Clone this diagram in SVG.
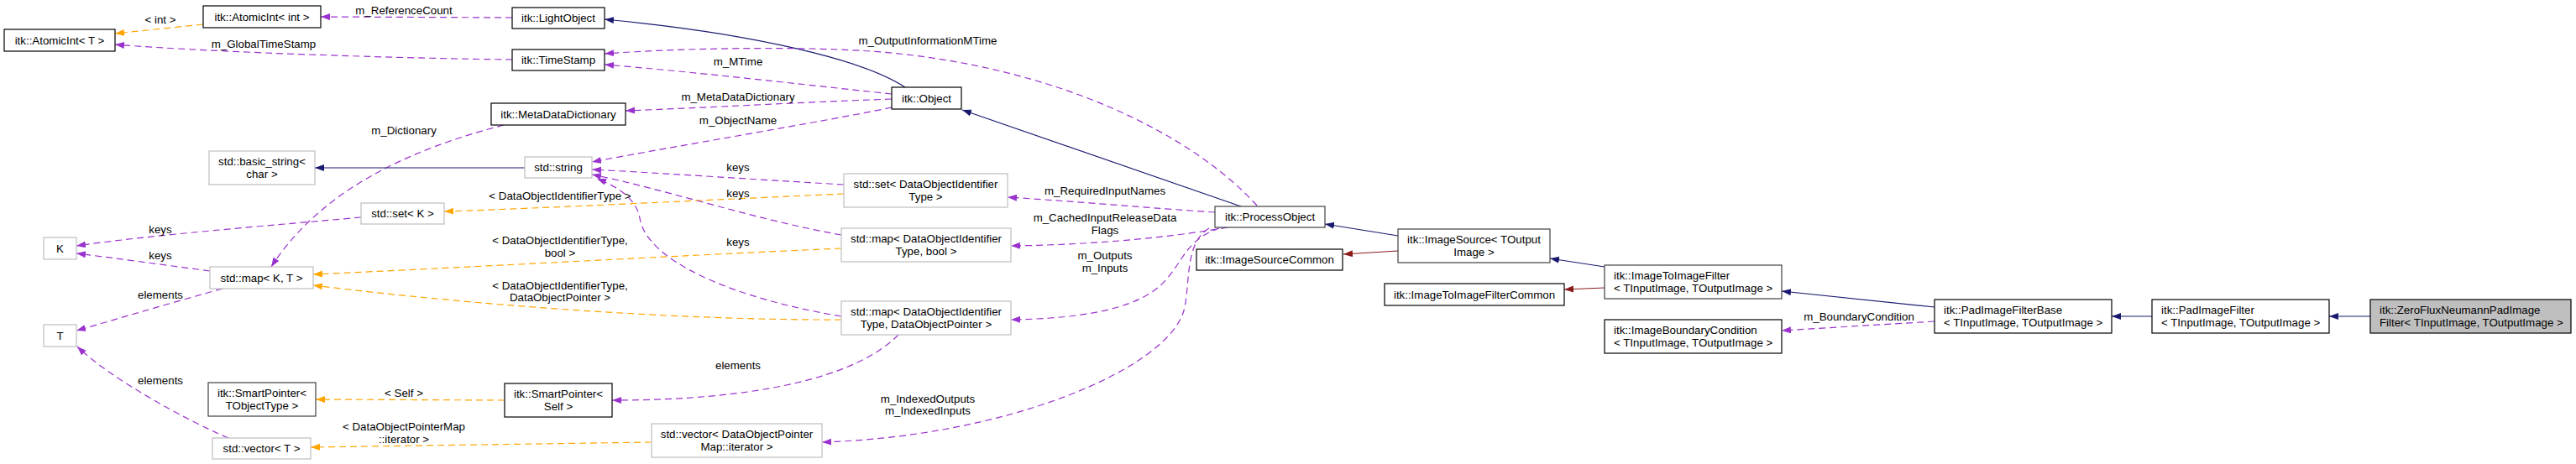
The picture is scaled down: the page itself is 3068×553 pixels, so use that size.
<svg xmlns="http://www.w3.org/2000/svg" width="3068" height="553" viewBox="0 0 3068 553">
<style>
text{font-family:"Liberation Sans",Arial,sans-serif;font-size:13.3px;fill:#000}
.c{text-anchor:middle}
.n rect{fill:#fff;stroke:#000;stroke-width:1.2}
.g rect{fill:#fff;stroke:#bfbfbf;stroke-width:1.2}
.root rect{fill:#bfbfbf;stroke:#000;stroke-width:1.2}
.e path{fill:none;stroke-width:1.2}
.nav{stroke:#191970}
.red{stroke:#8b1a1a}
.pur{stroke:#9a32cd;stroke-dasharray:8,5}
.ora{stroke:#ffa500;stroke-dasharray:8,5}
</style>
<defs>
<marker id="aN" markerUnits="userSpaceOnUse" markerWidth="12" markerHeight="10" refX="11" refY="4" orient="auto"><path d="M0,0 L11,4 L0,8 z" fill="#191970"/></marker>
<marker id="aR" markerUnits="userSpaceOnUse" markerWidth="12" markerHeight="10" refX="11" refY="4" orient="auto"><path d="M0,0 L11,4 L0,8 z" fill="#8b1a1a"/></marker>
<marker id="aP" markerUnits="userSpaceOnUse" markerWidth="12" markerHeight="10" refX="11" refY="4" orient="auto"><path d="M0,0 L11,4 L0,8 z" fill="#9a32cd"/></marker>
<marker id="aO" markerUnits="userSpaceOnUse" markerWidth="12" markerHeight="10" refX="11" refY="4" orient="auto"><path d="M0,0 L11,4 L0,8 z" fill="#ffa500"/></marker>
</defs>
<rect x="0" y="0" width="3068" height="553" fill="#fff"/>
<g id="edges" class="e">
<path class="ora" d="M242,29 L137,40" marker-end="url(#aO)"/>
<path class="pur" d="M610,21 L382,20" marker-end="url(#aP)"/>
<path class="pur" d="M610,71 C500,70 260,63 137,53" marker-end="url(#aP)"/>
<path class="nav" d="M1078,104 C1030,72 900,40 720,23" marker-end="url(#aN)"/>
<path class="pur" d="M1497,245 C1420,160 1260,80 1050,62 C950,54 800,58 720,64" marker-end="url(#aP)"/>
<path class="pur" d="M1062,112 C950,100 820,85 720,77" marker-end="url(#aP)"/>
<path class="pur" d="M1062,118 C950,122 850,128 745,132" marker-end="url(#aP)"/>
<path class="pur" d="M1062,128 C980,145 800,175 705,193" marker-end="url(#aP)"/>
<path class="pur" d="M600,149 C480,180 380,230 323,318" marker-end="url(#aP)"/>
<path class="nav" d="M625,200 L375,200" marker-end="url(#aN)"/>
<path class="pur" d="M1005,220 C900,214 800,207 705,202" marker-end="url(#aP)"/>
<path class="ora" d="M1005,231 C850,238 650,248 529,252" marker-end="url(#aO)"/>
<path class="pur" d="M430,259 C330,268 180,280 91,293" marker-end="url(#aP)"/>
<path class="pur" d="M250,323 C190,315 140,308 91,302" marker-end="url(#aP)"/>
<path class="pur" d="M265,344 C200,362 140,380 91,394" marker-end="url(#aP)"/>
<path class="pur" d="M1002,280 C900,262 790,225 705,208" marker-end="url(#aP)"/>
<path class="pur" d="M1002,377 C870,355 770,310 762,260 C758,235 730,220 711,213" marker-end="url(#aP)"/>
<path class="ora" d="M1002,296 C800,305 550,319 373,327" marker-end="url(#aO)"/>
<path class="ora" d="M1002,381 C800,382 550,362 373,340" marker-end="url(#aO)"/>
<path class="pur" d="M1070,399 C1020,450 900,477 729,477" marker-end="url(#aP)"/>
<path class="ora" d="M601,477 L376,476" marker-end="url(#aO)"/>
<path class="ora" d="M776,527 L370,533" marker-end="url(#aO)"/>
<path class="pur" d="M272,522 C220,500 130,450 92,413" marker-end="url(#aP)"/>
<path class="pur" d="M1440,272 C1410,290 1418,340 1410,370 C1390,440 1200,520 979,527" marker-end="url(#aP)"/>
<path class="pur" d="M1452,272 C1400,290 1410,330 1360,355 C1320,375 1260,380 1204,381" marker-end="url(#aP)"/>
<path class="pur" d="M1447,253 C1370,248 1280,240 1200,235" marker-end="url(#aP)"/>
<path class="pur" d="M1462,271 C1380,285 1290,292 1204,293" marker-end="url(#aP)"/>
<path class="nav" d="M1478,246 L1146,131" marker-end="url(#aN)"/>
<path class="nav" d="M1665,281 L1578,267" marker-end="url(#aN)"/>
<path class="red" d="M1665,299 L1600,303" marker-end="url(#aR)"/>
<path class="nav" d="M1911,318 L1846,308" marker-end="url(#aN)"/>
<path class="red" d="M1911,343 L1863,345" marker-end="url(#aR)"/>
<path class="nav" d="M2304,366 L2122,347" marker-end="url(#aN)"/>
<path class="pur" d="M2304,383 L2122,394" marker-end="url(#aP)"/>
<path class="nav" d="M2563,377 L2515,377" marker-end="url(#aN)"/>
<path class="nav" d="M2823,377 L2774,377" marker-end="url(#aN)"/>
</g>
<g id="edge-labels">
<text class="c" x="191" y="28">&lt; int &gt;</text>
<text class="c" x="481" y="17">m_ReferenceCount</text>
<text class="c" x="314" y="57">m_GlobalTimeStamp</text>
<text class="c" x="1105" y="53">m_OutputInformationMTime</text>
<text class="c" x="879" y="78">m_MTime</text>
<text class="c" x="879" y="120">m_MetaDataDictionary</text>
<text class="c" x="879" y="148">m_ObjectName</text>
<text class="c" x="481" y="160">m_Dictionary</text>
<text class="c" x="879" y="204">keys</text>
<text class="c" x="879" y="235">keys</text>
<text class="c" x="667" y="238">&lt; DataObjectIdentifierType &gt;</text>
<text class="c" x="191" y="278">keys</text>
<text class="c" x="191" y="309">keys</text>
<text class="c" x="879" y="293">keys</text>
<text class="c" x="667" y="291">&lt; DataObjectIdentifierType,</text>
<text class="c" x="667" y="306">bool &gt;</text>
<text class="c" x="191" y="356">elements</text>
<text class="c" x="667" y="345">&lt; DataObjectIdentifierType,</text>
<text class="c" x="667" y="359">DataObjectPointer &gt;</text>
<text class="c" x="879" y="440">elements</text>
<text class="c" x="191" y="458">elements</text>
<text class="c" x="481" y="473">&lt; Self &gt;</text>
<text class="c" x="481" y="513">&lt; DataObjectPointerMap</text>
<text class="c" x="481" y="528">::iterator &gt;</text>
<text class="c" x="1105" y="480">m_IndexedOutputs</text>
<text class="c" x="1105" y="494">m_IndexedInputs</text>
<text class="c" x="1316" y="232">m_RequiredInputNames</text>
<text class="c" x="1316" y="264">m_CachedInputReleaseData</text>
<text class="c" x="1316" y="279">Flags</text>
<text class="c" x="1316" y="309">m_Outputs</text>
<text class="c" x="1316" y="324">m_Inputs</text>
<text class="c" x="2214" y="382">m_BoundaryCondition</text>
</g>
<g id="n_AtomicIntT" class="n"><rect x="5" y="35" width="132" height="26"/><text class="c" x="71" y="52.5">itk::AtomicInt&lt; T &gt;</text></g>
<g id="n_AtomicIntInt" class="n"><rect x="242" y="7" width="140" height="26"/><text class="c" x="312" y="24.5">itk::AtomicInt&lt; int &gt;</text></g>
<g id="n_LightObject" class="n"><rect x="610" y="9" width="110" height="25"/><text class="c" x="665" y="26">itk::LightObject</text></g>
<g id="n_TimeStamp" class="n"><rect x="610" y="59" width="110" height="25"/><text class="c" x="665" y="76">itk::TimeStamp</text></g>
<g id="n_MetaDataDictionary" class="n"><rect x="585" y="123" width="160" height="26"/><text class="c" x="665" y="140.5">itk::MetaDataDictionary</text></g>
<g id="n_Object" class="n"><rect x="1062" y="104" width="83" height="26"/><text class="c" x="1103.5" y="121.5">itk::Object</text></g>
<g id="n_string" class="g"><rect x="625" y="187" width="80" height="25"/><text class="c" x="665" y="204">std::string</text></g>
<g id="n_basic_string" class="g"><rect x="249" y="180" width="126" height="40"/><text class="c" x="312" y="196.5">std::basic_string&lt;</text><text class="c" x="312" y="211.5">char &gt;</text></g>
<g id="n_setDOIT" class="g"><rect x="1005" y="207" width="195" height="40"/><text class="c" x="1102.5" y="223.5">std::set&lt; DataObjectIdentifier</text><text class="c" x="1102.5" y="238.5">Type &gt;</text></g>
<g id="n_mapDOITbool" class="g"><rect x="1002" y="272" width="202" height="40"/><text class="c" x="1103" y="288.5">std::map&lt; DataObjectIdentifier</text><text class="c" x="1103" y="303.5">Type, bool &gt;</text></g>
<g id="n_mapDOITDOP" class="g"><rect x="1002" y="359" width="202" height="40"/><text class="c" x="1103" y="375.5">std::map&lt; DataObjectIdentifier</text><text class="c" x="1103" y="390.5">Type, DataObjectPointer &gt;</text></g>
<g id="n_setK" class="g"><rect x="430" y="242" width="99" height="25"/><text class="c" x="479.5" y="259">std::set&lt; K &gt;</text></g>
<g id="n_K" class="g"><rect x="52" y="283" width="39" height="26"/><text class="c" x="71.5" y="300.5">K</text></g>
<g id="n_mapKT" class="g"><rect x="250" y="318" width="123" height="26"/><text class="c" x="311.5" y="335.5">std::map&lt; K, T &gt;</text></g>
<g id="n_T" class="g"><rect x="52" y="387" width="39" height="26"/><text class="c" x="71.5" y="404.5">T</text></g>
<g id="n_SmartPointerTObj" class="n"><rect x="248" y="456" width="128" height="40" style="stroke:#404040"/><text class="c" x="312" y="472.5">itk::SmartPointer&lt;</text><text class="c" x="312" y="487.5">TObjectType &gt;</text></g>
<g id="n_SmartPointerSelf" class="n"><rect x="601" y="457" width="128" height="40"/><text class="c" x="665" y="473.5">itk::SmartPointer&lt;</text><text class="c" x="665" y="488.5">Self &gt;</text></g>
<g id="n_vectorT" class="g"><rect x="253" y="522" width="117" height="25"/><text class="c" x="311.5" y="539">std::vector&lt; T &gt;</text></g>
<g id="n_vectorDOPM" class="g"><rect x="776" y="505" width="203" height="40"/><text class="c" x="877.5" y="521.5">std::vector&lt; DataObjectPointer</text><text class="c" x="877.5" y="536.5">Map::iterator &gt;</text></g>
<g id="n_ProcessObject" class="n"><rect x="1447" y="246" width="131" height="25" style="stroke:#404040"/><text class="c" x="1512.5" y="263">itk::ProcessObject</text></g>
<g id="n_ImageSourceCommon" class="n"><rect x="1425" y="297" width="174" height="25"/><text class="c" x="1512" y="314">itk::ImageSourceCommon</text></g>
<g id="n_ImageSource" class="n"><rect x="1665" y="273" width="181" height="40" style="stroke:#404040"/><text class="c" x="1755.5" y="289.5">itk::ImageSource&lt; TOutput</text><text class="c" x="1755.5" y="304.5">Image &gt;</text></g>
<g id="n_ImageToImageFilterCommon" class="n"><rect x="1649" y="338" width="214" height="26"/><text class="c" x="1756" y="355.5">itk::ImageToImageFilterCommon</text></g>
<g id="n_ImageToImageFilter" class="n"><rect x="1911" y="316" width="211" height="40" style="stroke:#404040"/><text x="1922" y="332.5">itk::ImageToImageFilter</text><text x="1922" y="347.5">&lt; TInputImage, TOutputImage &gt;</text></g>
<g id="n_ImageBoundaryCondition" class="n"><rect x="1911" y="381" width="211" height="40"/><text x="1922" y="397.5">itk::ImageBoundaryCondition</text><text x="1922" y="412.5">&lt; TInputImage, TOutputImage &gt;</text></g>
<g id="n_PadImageFilterBase" class="n"><rect x="2304" y="357" width="211" height="40"/><text x="2315" y="373.5">itk::PadImageFilterBase</text><text x="2315" y="388.5">&lt; TInputImage, TOutputImage &gt;</text></g>
<g id="n_PadImageFilter" class="n"><rect x="2563" y="357" width="211" height="40"/><text x="2574" y="373.5">itk::PadImageFilter</text><text x="2574" y="388.5">&lt; TInputImage, TOutputImage &gt;</text></g>
<g id="n_ZeroFlux" class="root"><rect x="2823" y="357" width="239" height="40"/><text x="2834" y="373.5">itk::ZeroFluxNeumannPadImage</text><text x="2834" y="388.5">Filter&lt; TInputImage, TOutputImage &gt;</text></g>
</svg>
